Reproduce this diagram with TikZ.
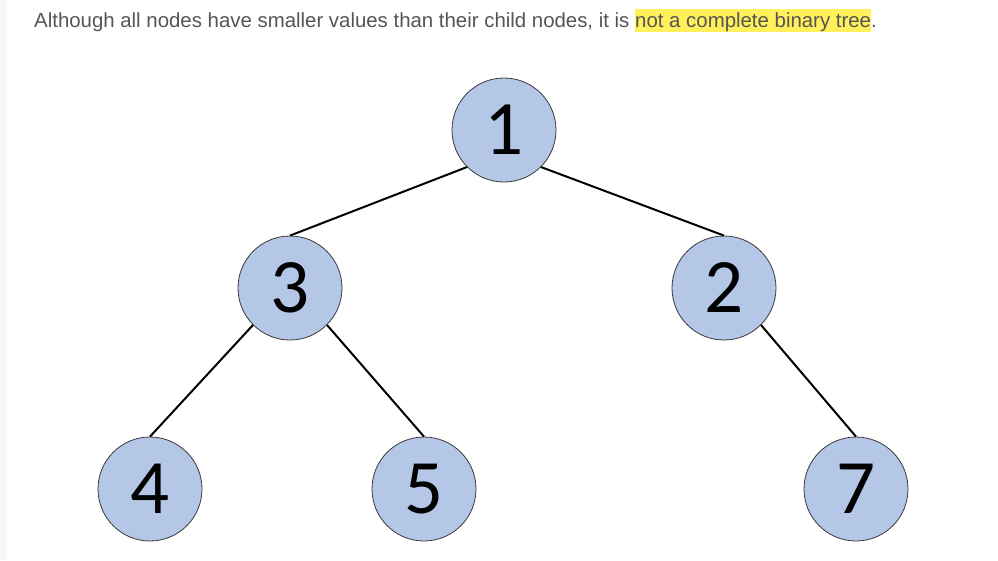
\documentclass[tikz,border=0pt]{standalone}
\usepackage{xcolor}
\usepackage{fontspec}
\usepackage{tikz}
\usetikzlibrary{calc}
\setmainfont{Liberation Sans}
\newfontfamily\digitfont{Carlito}
\definecolor{nodeblue}{HTML}{B4C7E7}
\definecolor{nodeedge}{HTML}{3A3A3A}
\definecolor{textgray}{HTML}{555555}
\definecolor{markyellow}{HTML}{FFF05C}
\definecolor{stripgray}{HTML}{F7F7F7}
\newcommand{\marktext}[1]{{\setlength{\fboxsep}{0pt}\colorbox{markyellow}{\rule[-5pt]{0pt}{23pt}#1}}}
\tikzset{
	heapnode/.style={circle,fill=nodeblue,draw=nodeedge,line width=0.8pt,minimum size=104pt,inner sep=0pt,font=\digitfont\fontsize{77}{80}\selectfont},
	heapedge/.style={line width=2pt,black}
}

\begin{document}
\begin{tikzpicture}[x=1pt,y=-1pt]
\useasboundingbox (0,0) rectangle (998,560);
\fill[stripgray] (0,0) rectangle (6,560);
\node[anchor=base west,inner sep=0pt,text=textgray,font=\fontsize{20.4}{24}\selectfont] (T) at (34,27) {Although all nodes have smaller values than their child nodes, it is \marktext{not a complete binary tree}.};
\begin{scope}
	\node[heapnode] (A) at (504,130) {1};
	\node[heapnode] (B) at (290,288) {3};
	\node[heapnode] (C) at (724,288) {2};
	\node[heapnode] (BA) at (150,489) {4};
	\node[heapnode] (BB) at (424,489) {5};
	\node[heapnode] (CB) at (856,489) {7};
	\draw[heapedge] (A.south west)--(B.north);
	\draw[heapedge] (A.south east)--(C.north);
	\draw[heapedge] (B.south west)--(BA.north);
	\draw[heapedge] (B.south east)--(BB.north);
	\draw[heapedge] (C.south east)--(CB.north);
\end{scope}
\end{tikzpicture}
\end{document}
